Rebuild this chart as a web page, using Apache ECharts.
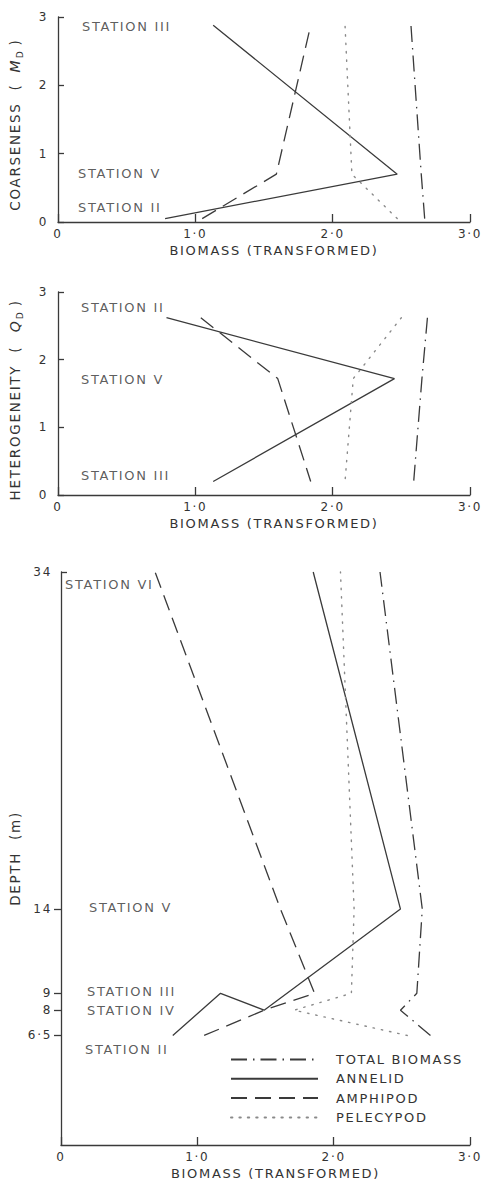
<!DOCTYPE html>
<html>
<head>
<meta charset="utf-8">
<script src="https://cdn.jsdelivr.net/npm/echarts@6/dist/echarts.min.js"></script>
<style>
html,body{margin:0;padding:0;background:#fff;}
#c{width:483px;height:1188px;}
#c text{letter-spacing:1.7px;}
</style>
</head>
<body>
<div id="c"></div>
<script>
// ---------- DATA ----------
const seriesNames = ['TOTAL BIOMASS', 'ANNELID', 'AMPHIPOD', 'PELECYPOD'];
const xTickLabels = ['0', '1·0', '2·0', '3·0'];
const yTickLabels = ['0', '1', '2', '3'];

// Panel 1: coarseness (stations II, V, III)
const coarseStations = ['STATION II', 'STATION V', 'STATION III'];
const coarseValues = [0.05, 0.7, 2.88];
const coarseTotal = [2.67, 2.645, 2.57];
const coarseAnnelid = [0.78, 2.47, 1.13];
const coarseAmphipod = [1.05, 1.59, 1.84];
const coarsePelecypod = [2.47, 2.14, 2.09];

// Panel 2: heterogeneity (stations II, V, III)
const hetStations = ['STATION II', 'STATION V', 'STATION III'];
const hetValues = [2.62, 1.72, 0.2];
const hetTotal = [2.69, 2.65, 2.59];
const hetAnnelid = [0.79, 2.45, 1.13];
const hetAmphipod = [1.04, 1.6, 1.84];
const hetPelecypod = [2.5, 2.15, 2.09];

// Panel 3: depth (stations II, III, IV, V, VI)
const depthStations = ['STATION II', 'STATION III', 'STATION IV', 'STATION V', 'STATION VI'];
const depthValues = [6.5, 9, 8, 14, 34];
const depthTotal = [2.71, 2.61, 2.49, 2.65, 2.34];
const depthAnnelid = [0.82, 1.17, 1.49, 2.49, 1.85];
const depthAmphipod = [1.05, 1.86, 1.49, 1.61, 0.69];
const depthPelecypod = [2.54, 2.13, 1.71, 2.15, 2.05];
const depthTickValues = [6.5, 8, 9, 14, 34];
const depthTickLabels = ['6·5', '8', '9', '14', '34'];
// drawing order of points (annelid follows station order, others follow depth)
const orderByStation = [0, 1, 2, 3, 4];
const orderByDepth = [0, 2, 1, 3, 4];

// ---------- STYLE ----------
const FONT = 'DejaVu Sans';
const INK = '#3a3a3a';
const SPACING = 1.7; // css letter-spacing applied to svg text
const lineStyles = {
  'TOTAL BIOMASS': { color: INK, width: 1.3, type: [16, 6, 1.5, 6] },
  'ANNELID': { color: INK, width: 1.3, type: 'solid' },
  'AMPHIPOD': { color: INK, width: 1.3, type: [16, 8] },
  'PELECYPOD': { color: '#8a8a8a', width: 1.4, type: [1.4, 7], cap: 'round' }
};
// label offsets (px) for station labels, per panel
const coarseLabelOffsets = [[20, -11], [20, -1], [24, 1]];
const hetLabelOffsets = [[23, -10], [23, 1], [23, -6]];
const depthLabelOffsets = [[24, 14], [26, -2], [26, 0], [28, -2], [4, 12]];

function pairs(xs, ys, order) {
  const o = order || xs.map((_, i) => i);
  return o.map(i => [xs[i], ys[i]]);
}
function line(name, idx, data) {
  return {
    type: 'line', name: name, xAxisIndex: idx, yAxisIndex: idx,
    data: data, symbol: 'none', showSymbol: false, smooth: false,
    lineStyle: lineStyles[name], itemStyle: { color: lineStyles[name].color },
    silent: true, animation: false, clip: false, z: 3
  };
}
function labels(idx, names, values, offsets) {
  return {
    type: 'scatter', xAxisIndex: idx, yAxisIndex: idx, symbolSize: 0,
    silent: true, animation: false, z: 4,
    data: names.map((n, i) => ({
      value: [0, values[i]], name: n,
      label: { offset: offsets[i] }
    })),
    label: {
      show: true, position: 'right', distance: 0,
      formatter: p => p.name, color: '#333', fontFamily: FONT, fontSize: 13
    }
  };
}

const xAxisBase = (g) => ({
  type: 'value', gridIndex: g, min: 0, max: 3, interval: 1,
  name: 'BIOMASS (TRANSFORMED)', nameLocation: 'middle', nameGap: 22,
  nameTextStyle: { color: '#333', fontFamily: FONT, fontSize: 13, padding: [0, 0, 0, 20] },
  axisLine: { show: true, onZero: false, lineStyle: { color: INK, width: 1.3 } },
  axisTick: { show: true, inside: true, length: 8, lineStyle: { color: INK, width: 1.3 } },
  axisLabel: { color: '#333', fontFamily: FONT, fontSize: 12, margin: 6,
    formatter: v => xTickLabels[Math.round(v)] },
  splitLine: { show: false }
});

const yName = (main, letter, sub) =>
  '{t|' + main + '  (}{m|' + letter + '}{s|' + sub + '}{e|)}';
// rich tokens are placed by ECharts' own width, so pad them by the css spacing
const pad = (str) => Math.round(str.length * SPACING);
const yNameStyle = (main) => ({
  color: '#333', fontFamily: FONT,
  rich: {
    t: { fontSize: 13.5, fontFamily: FONT, color: '#333', padding: [0, pad(main + '  (') + 1, 0, 0] },
    m: { fontSize: 14, fontFamily: FONT, fontStyle: 'italic', color: '#333', padding: [0, 2, 0, 0] },
    s: { fontSize: 9, fontFamily: FONT, color: '#333', padding: [9, 6, 0, 0] },
    e: { fontSize: 13.5, fontFamily: FONT, color: '#333' }
  }
});
const yAxisSmall = (g, main, letter) => ({
  type: 'value', gridIndex: g, min: 0, max: 3, interval: 1,
  name: yName(main, letter, 'D'), nameLocation: 'middle', nameGap: 34, nameRotate: 90,
  nameTextStyle: yNameStyle(main),
  axisLine: { show: true, onZero: false, lineStyle: { color: INK, width: 1.3 } },
  axisTick: { show: true, inside: true, length: 6, lineStyle: { color: INK, width: 1.3 } },
  axisLabel: { color: '#333', fontFamily: FONT, fontSize: 12, margin: 10,
    formatter: v => yTickLabels[Math.round(v)] },
  splitLine: { show: false }
});

const option = {
  backgroundColor: '#fff',
  animation: false,
  textStyle: { fontFamily: FONT },
  grid: [
    { left: 57, top: 17, width: 413, height: 205 },
    { left: 57, top: 292, width: 413, height: 203 },
    { left: 57, top: 572, width: 413, height: 573 }
  ],
  xAxis: [xAxisBase(0), xAxisBase(1), xAxisBase(2)],
  yAxis: [
    yAxisSmall(0, 'COARSENESS', 'M'),
    yAxisSmall(1, 'HETEROGENEITY', 'Q'),
    {
      type: 'value', gridIndex: 2, min: 0, max: 34,
      name: 'DEPTH  (m)', nameLocation: 'middle', nameGap: 36, nameRotate: 90,
      nameTextStyle: { color: '#333', fontFamily: FONT, fontSize: 13.5 },
      axisLine: { show: true, onZero: false, lineStyle: { color: INK, width: 1.3 } },
      axisTick: { show: true, inside: false, length: 7, customValues: depthTickValues.slice(0, 4),
        lineStyle: { color: INK, width: 1.3 } },
      axisLabel: { color: '#333', fontFamily: FONT, fontSize: 12, margin: 9,
        customValues: depthTickValues,
        formatter: v => depthTickLabels[depthTickValues.indexOf(v)] },
      splitLine: { show: false }
    },
    {
      type: 'value', gridIndex: 2, min: 0, max: 34, position: 'left', offset: 0,
      axisLine: { show: false },
      axisTick: { show: true, inside: true, length: 6, customValues: [34],
        lineStyle: { color: INK, width: 1.3 } },
      axisLabel: { show: false }, splitLine: { show: false }
    }
  ],
  legend: {
    orient: 'vertical', left: 230, top: 1053, padding: 0,
    itemWidth: 87, itemHeight: 14, itemGap: 6.3,
    selectedMode: false,
    itemStyle: { opacity: 0 },
    data: seriesNames,
    textStyle: { color: '#333', fontFamily: FONT, fontSize: 13, padding: [0, 0, 0, 13] }
  },
  series: [
    line('TOTAL BIOMASS', 0, pairs(coarseTotal, coarseValues)),
    line('ANNELID', 0, pairs(coarseAnnelid, coarseValues)),
    line('AMPHIPOD', 0, pairs(coarseAmphipod, coarseValues)),
    line('PELECYPOD', 0, pairs(coarsePelecypod, coarseValues)),
    labels(0, coarseStations, coarseValues, coarseLabelOffsets),

    line('TOTAL BIOMASS', 1, pairs(hetTotal, hetValues)),
    line('ANNELID', 1, pairs(hetAnnelid, hetValues)),
    line('AMPHIPOD', 1, pairs(hetAmphipod, hetValues)),
    line('PELECYPOD', 1, pairs(hetPelecypod, hetValues)),
    labels(1, hetStations, hetValues, hetLabelOffsets),

    line('TOTAL BIOMASS', 2, pairs(depthTotal, depthValues, orderByDepth)),
    line('ANNELID', 2, pairs(depthAnnelid, depthValues, orderByStation)),
    line('AMPHIPOD', 2, pairs(depthAmphipod, depthValues, orderByDepth)),
    line('PELECYPOD', 2, pairs(depthPelecypod, depthValues, orderByDepth)),
    labels(2, depthStations, depthValues, depthLabelOffsets)
  ]
};

const chart = echarts.init(document.getElementById('c'), null, { renderer: 'svg', width: 483, height: 1188 });
chart.setOption(option);
</script>
</body>
</html>
